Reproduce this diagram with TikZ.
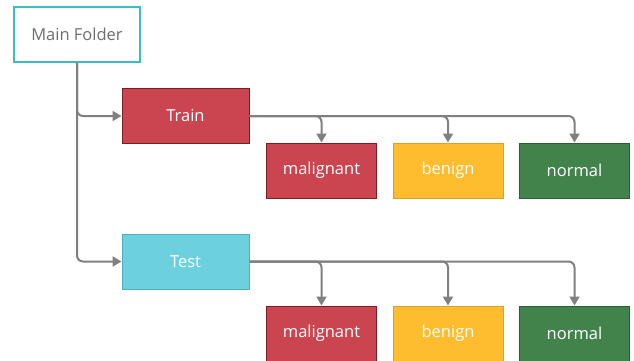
\documentclass[tikz,border=0pt]{standalone}
\usepackage{fontspec}
\setmainfont{Open Sans}
\usetikzlibrary{arrows.meta}
\definecolor{redf}{HTML}{CB4550}
\definecolor{redd}{HTML}{7E1C24}
\definecolor{yelf}{HTML}{FDBD2F}
\definecolor{yeld}{HTML}{D9A02A}
\definecolor{grnf}{HTML}{42834B}
\definecolor{grnd}{HTML}{2C5E33}
\definecolor{cyf}{HTML}{6DD0DE}
\definecolor{cyd}{HTML}{4BB0BF}
\definecolor{teal}{HTML}{3DBDBF}
\definecolor{conn}{HTML}{808080}
\definecolor{txtg}{HTML}{6E6E6E}
\begin{document}
\begin{tikzpicture}[x=1pt,y=-1pt,
  box/.style={rectangle, line width=1pt, inner sep=0pt, text=white,
    font=\fontsize{16.5}{19}\selectfont},
  small/.style={box, minimum width=110pt, minimum height=55pt},
  big/.style={box, minimum width=127pt, minimum height=55pt},
  redbox/.style={fill=redf, draw=redd},
  yelbox/.style={fill=yelf, draw=yeld},
  grnbox/.style={fill=grnf, draw=grnd},
  cybox/.style={fill=cyf, draw=cyd},
  link/.style={draw=conn, line width=2pt, rounded corners=6pt,
    -{Triangle[length=9pt,width=10pt]}}]
\useasboundingbox (0,0) rectangle (634,361);
\node[big, fill=white, draw=teal, line width=1.5pt, minimum width=126pt, text=txtg] (mf) at (77,34.5) {\raisebox{-1.5pt}{Main Folder}};
\node[big, redbox] (train) at (185.5,116) {\raisebox{-1.5pt}{Train}};
\node[big, cybox] (test) at (185.5,261.5) {\raisebox{-1.5pt}{Test}};
\node[small, redbox] (m1) at (321.5,170.5) {\raisebox{-1.5pt}{malignant}};
\node[small, yelbox] (b1) at (448,170.5) {\raisebox{-1.5pt}{benign}};
\node[small, grnbox] (n1) at (574.5,170.5) {\raisebox{-1.5pt}{normal}};
\node[small, redbox] (m2) at (321.5,333.5) {\raisebox{-1.5pt}{malignant}};
\node[small, yelbox] (b2) at (448,333.5) {\raisebox{-1.5pt}{benign}};
\node[small, grnbox] (n2) at (574.5,333.5) {\raisebox{-1.5pt}{normal}};
\draw[link] (mf.south) |- (train.west);
\draw[link] (mf.south) |- (test.west);
\draw[link] (train.east) -| (m1.north);
\draw[link] (train.east) -| (b1.north);
\draw[link] (train.east) -| (n1.north);
\draw[link] (test.east) -| (m2.north);
\draw[link] (test.east) -| (b2.north);
\draw[link] (test.east) -| (n2.north);
\end{tikzpicture}
\end{document}
